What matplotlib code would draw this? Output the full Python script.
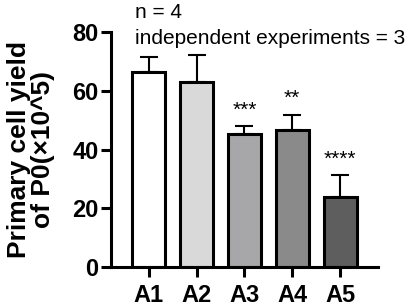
import matplotlib
matplotlib.use("Agg")
import matplotlib.pyplot as plt

plt.rcParams['font.family'] = ['Liberation Sans', 'DejaVu Sans']

groups = ["A1", "A2", "A3", "A4", "A5"]
means = [66.4, 63.0, 45.3, 46.6, 23.8]
errs = [5.1, 9.2, 2.7, 5.1, 7.5]
colors = ["#ffffff", "#d9d9d9", "#a7a7a9", "#8a8a8a", "#5e5e5e"]
stars = ["", "", "***", "**", "****"]
star_y = [0, 0, 53.5, 57.5, 36.5]

fig = plt.figure(figsize=(4.08, 3.08), dpi=100)
ax = fig.add_axes([0.272, 0.133, 0.654, 0.763])

x = list(range(len(groups)))
ax.bar(x, means, width=0.69, color=colors, edgecolor="black", linewidth=2.2, zorder=2)
ax.errorbar(x, means, yerr=[[0]*5, errs], fmt="none", ecolor="black",
            elinewidth=1.5, capsize=6.5, capthick=1.5, zorder=1)

for i, s in enumerate(stars):
    if s:
        ax.text(i, star_y[i], s, ha="center", va="center", fontsize=15)

ax.set_xlim(-0.79, 4.79)
ax.set_ylim(0, 80)
ax.set_yticks([0, 20, 40, 60, 80])
ax.set_xticks(x)
ax.set_xticklabels(groups)
for sp in ["top", "right"]:
    ax.spines[sp].set_visible(False)
for sp in ["left", "bottom"]:
    ax.spines[sp].set_linewidth(2.2)
ax.tick_params(width=2.2, length=7, labelsize=17)
ax.tick_params(axis="y", pad=2)
ax.tick_params(axis="x", pad=5)
for lab in ax.get_xticklabels() + ax.get_yticklabels():
    lab.set_fontweight("bold")

ax.set_ylabel("Primary cell yield\nof P0(×10^5)", fontsize=19, fontweight="bold",
              labelpad=12, linespacing=1.0)

fig.text(0.33, 0.96, "n = 4", fontsize=15, va="center")
fig.text(0.33, 0.875, "independent experiments = 3", fontsize=15, va="center")

fig.savefig("out.png", dpi=100)
